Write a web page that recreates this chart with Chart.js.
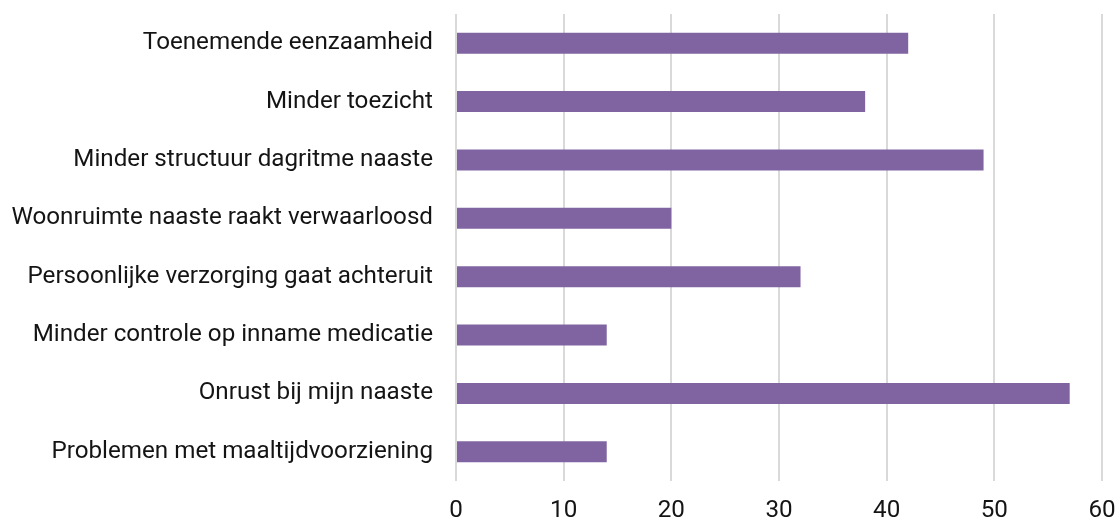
<!DOCTYPE html>
<html>
<head>
<meta charset="utf-8">
<script src="https://cdn.jsdelivr.net/npm/chart.js@4"></script>
<style>
html,body{margin:0;padding:0;background:#fff;}
#wrap{width:1118px;height:521px;position:relative;}
</style>
</head>
<body>
<div id="wrap"><canvas id="c" width="1118" height="521"></canvas></div>
<script>
const categories = [
  "Toenemende eenzaamheid",
  "Minder toezicht",
  "Minder structuur dagritme naaste",
  "Woonruimte naaste raakt verwaarloosd",
  "Persoonlijke verzorging gaat achteruit",
  "Minder controle op inname medicatie",
  "Onrust bij mijn naaste",
  "Problemen met maaltijdvoorziening"
];
const values = [42, 38, 49, 20, 32, 14, 57, 14];
const xTicks = [0, 10, 20, 30, 40, 50, 60];

const FONT = "Roboto";
new Chart(document.getElementById('c'), {
  type: 'bar',
  data: {
    labels: categories,
    datasets: [{
      data: values,
      backgroundColor: '#8064A2',
      borderWidth: 0,
      categoryPercentage: 1,
      barPercentage: 0.36
    }]
  },
  options: {
    indexAxis: 'y',
    responsive: false,
    animation: false,
    layout: { padding: { top: 14, right: 16, bottom: 0, left: 0 } },
    plugins: { legend: { display: false }, tooltip: { enabled: false } },
    scales: {
      x: {
        min: xTicks[0], max: xTicks[xTicks.length - 1],
        afterBuildTicks: s => { s.ticks = xTicks.map(v => ({ value: v })); },
        border: { display: false },
        grid: { color: '#d9d9d9', lineWidth: 2, drawTicks: false },
        ticks: { color: '#141414', font: { family: FONT, size: 24.2 }, padding: 15, maxRotation: 0 },
        afterFit: s => { s.height = 40; s.paddingLeft = 0; s.paddingRight = 0; }
      },
      y: {
        border: { display: false },
        grid: { display: false, drawTicks: false },
        ticks: { color: '#141414', font: { family: FONT, size: 24.2 }, padding: 23 },
        afterFit: s => { s.width = 456; s.paddingTop = 0; s.paddingBottom = 0; }
      }
    }
  }
});
</script>
</body>
</html>
